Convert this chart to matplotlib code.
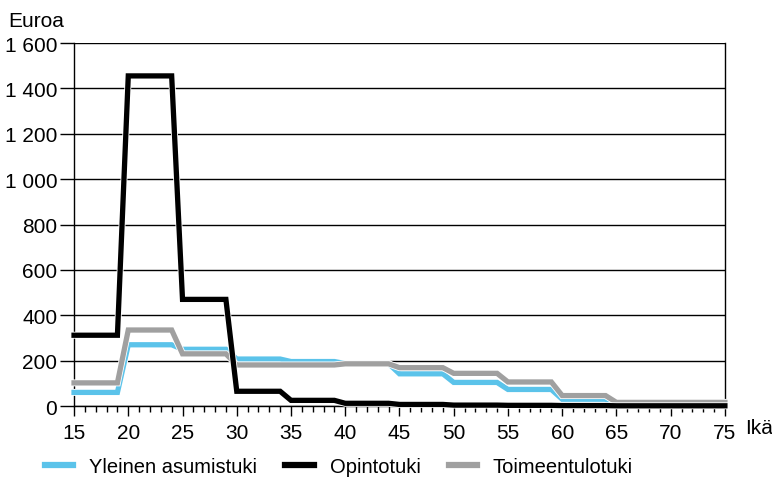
import numpy as np
import matplotlib
matplotlib.use("Agg")
import matplotlib.pyplot as plt
from matplotlib.ticker import FuncFormatter, MultipleLocator
import matplotlib.patheffects as pe

plt.rcParams['font.family'] = ['Liberation Sans', 'DejaVu Sans']

# age groups 15-19, 20-24, ..., 70-74 (euros per month)
group_starts = [15, 20, 25, 30, 35, 40, 45, 50, 55, 60, 65, 70]
asumistuki = [60, 270, 250, 207, 196, 187, 142, 104, 73, 30, 4, 4]
opintotuki = [312, 1455, 470, 65, 25, 12, 7, 4, 3, 2, 1, 1]
toimeentulotuki = [102, 335, 230, 181, 181, 186, 169, 144, 106, 46, 16, 16]

series = [
    ("Yleinen asumistuki", asumistuki, "#5bc3ea"),
    ("Toimeentulotuki", toimeentulotuki, "#a0a0a0"),
    ("Opintotuki", opintotuki, "#000000"),
]

ages = np.arange(15, 76)

fig = plt.figure(figsize=(7.72, 4.81), dpi=100)
ax = fig.add_axes([0.0959, 0.1538, 0.8431, 0.7547])

lines = {}
for name, vals, col in series:
    y = np.append(np.repeat(vals, 5), vals[-1])
    ln, = ax.plot(ages, y, color=col, lw=3.8, solid_joinstyle='miter',
                  clip_on=False, zorder=3,
                  path_effects=[pe.Stroke(linewidth=5.0, foreground='white'), pe.Normal()])
    lines[name] = ln

ax.set_xlim(15, 75)
ax.set_ylim(0, 1600)
ax.yaxis.set_major_locator(MultipleLocator(200))
ax.xaxis.set_major_locator(MultipleLocator(5))
ax.xaxis.set_minor_locator(MultipleLocator(1))
ax.yaxis.set_major_formatter(FuncFormatter(lambda v, p: f"{int(v):,}".replace(",", " ")))
ax.grid(axis='y', color='black', lw=1.0)
ax.set_axisbelow(True)

ax.spines['top'].set_visible(False)
for s in ['left', 'right', 'bottom']:
    ax.spines[s].set_linewidth(1.0)
    ax.spines[s].set_color('black')

ax.tick_params(axis='y', length=10, width=1.0, labelsize=15, pad=2)
ax.tick_params(axis='x', which='major', length=7, width=1.0, labelsize=15, pad=5)
ax.tick_params(axis='x', which='minor', length=4, width=1.0)

ax.text(-0.101, 1.035, "Euroa", transform=ax.transAxes, fontsize=15, ha='left', va='bottom')
ax.text(1.031, -0.032, "Ikä", transform=ax.transAxes, fontsize=15, ha='left', va='top')

order = ["Yleinen asumistuki", "Opintotuki", "Toimeentulotuki"]
handles = [plt.Line2D([], [], color=lines[n].get_color(), lw=4.5) for n in order]
fig.legend(handles, order, loc='center left', bbox_to_anchor=(0.045, 0.028),
           ncol=3, frameon=False, fontsize=14.5, handlelength=1.4,
           handletextpad=0.8, columnspacing=1.4, borderpad=0)

fig.savefig("out.png", dpi=100)
